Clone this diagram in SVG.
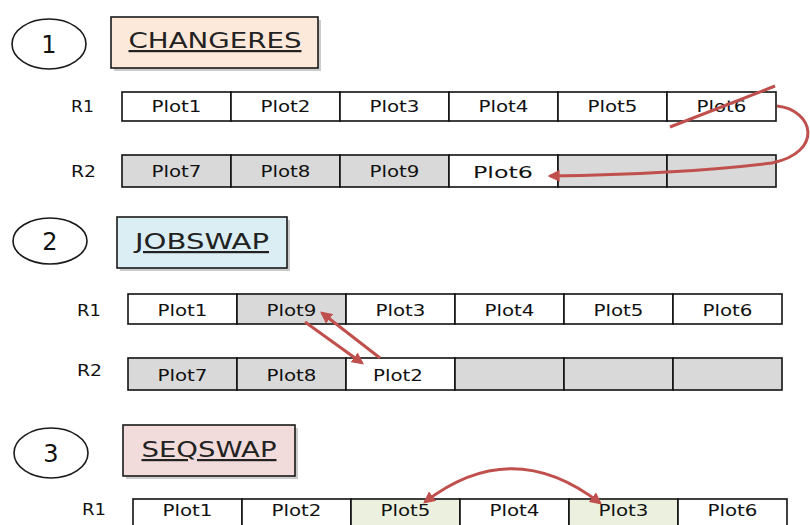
<svg xmlns="http://www.w3.org/2000/svg" width="810" height="525" viewBox="0 0 810 525">
  <defs>
    <style>
      .bg { fill: #ffffff; }
      .num { fill: #ffffff; stroke: #1a1a1a; stroke-width: 1.6; }
      .numtxt { font-family: "DejaVu Sans", "Noto Sans", sans-serif; font-size: 24px; fill: #111; text-anchor: middle; }
      .hdr { stroke: #1a1a1a; stroke-width: 1.6; }
      .shadow { fill: #9a9a9a; opacity: 0.5; }
      .hdrtxt { font-family: "DejaVu Sans", "Noto Sans", sans-serif; font-size: 22px; fill: #222; text-anchor: middle; text-decoration: underline; }
      .rowlbl { font-family: "DejaVu Sans", "Noto Sans", sans-serif; font-size: 16px; fill: #111; }
      .cell { stroke: #111; stroke-width: 1.6; }
      .w { fill: #ffffff; }
      .g { fill: #d9d9d9; }
      .gr { fill: #ebf1de; }
      .ctxt { font-family: "DejaVu Sans", "Noto Sans", sans-serif; font-size: 15px; fill: #111; text-anchor: middle; }
      .link { fill: none; stroke: #c0504d; stroke-width: 3; }
    </style>
    <marker id="ah" viewBox="0 0 10 10" refX="8" refY="5" markerWidth="4" markerHeight="4" orient="auto-start-reverse" markerUnits="strokeWidth">
      <path d="M0,0 L10,5 L0,10 z" fill="#c0504d"/>
    </marker>
  </defs>

  <rect class="bg" x="0" y="0" width="810" height="525"/>

  <!-- ===== Section 1: CHANGERES ===== -->
  <g id="step1">
    <ellipse class="num" cx="49" cy="44" rx="37" ry="25"/>
    <text class="numtxt" x="49" y="53">1</text>
  </g>
  <g id="changeres">
    <rect class="shadow" x="114" y="20" width="207" height="51"/>
    <rect class="hdr" x="111" y="17" width="207" height="51" fill="#fde9d9"/>
    <text class="hdrtxt" x="215" y="48" textLength="173" lengthAdjust="spacingAndGlyphs">CHANGERES</text>
  </g>

  <text class="rowlbl" x="71" y="112" textLength="23" lengthAdjust="spacingAndGlyphs">R1</text>
  <g id="s1-r1-c1"><rect class="cell w" x="122" y="92" width="109" height="29"/><text class="ctxt" x="176.5" y="112" textLength="50" lengthAdjust="spacingAndGlyphs">Plot1</text></g>
  <g id="s1-r1-c2"><rect class="cell w" x="231" y="92" width="109" height="29"/><text class="ctxt" x="285.5" y="112" textLength="50" lengthAdjust="spacingAndGlyphs">Plot2</text></g>
  <g id="s1-r1-c3"><rect class="cell w" x="340" y="92" width="109" height="29"/><text class="ctxt" x="394.5" y="112" textLength="50" lengthAdjust="spacingAndGlyphs">Plot3</text></g>
  <g id="s1-r1-c4"><rect class="cell w" x="449" y="92" width="109" height="29"/><text class="ctxt" x="503.5" y="112" textLength="50" lengthAdjust="spacingAndGlyphs">Plot4</text></g>
  <g id="s1-r1-c5"><rect class="cell w" x="558" y="92" width="109" height="29"/><text class="ctxt" x="612.5" y="112" textLength="50" lengthAdjust="spacingAndGlyphs">Plot5</text></g>
  <g id="s1-r1-c6"><rect class="cell w" x="667" y="92" width="109" height="29"/><text class="ctxt" x="721.5" y="112" textLength="50" lengthAdjust="spacingAndGlyphs">Plot6</text></g>

  <text class="rowlbl" x="71" y="177" textLength="25" lengthAdjust="spacingAndGlyphs">R2</text>
  <g id="s1-r2-c1"><rect class="cell g" x="122" y="155" width="109" height="32"/><text class="ctxt" x="176.5" y="177" textLength="50" lengthAdjust="spacingAndGlyphs">Plot7</text></g>
  <g id="s1-r2-c2"><rect class="cell g" x="231" y="155" width="109" height="32"/><text class="ctxt" x="285.5" y="177" textLength="50" lengthAdjust="spacingAndGlyphs">Plot8</text></g>
  <g id="s1-r2-c3"><rect class="cell g" x="340" y="155" width="109" height="32"/><text class="ctxt" x="394.5" y="177" textLength="50" lengthAdjust="spacingAndGlyphs">Plot9</text></g>
  <g id="s1-r2-c4"><rect class="cell w" x="449" y="155" width="109" height="32"/><text class="ctxt" x="503" y="178" font-size="17" textLength="60" lengthAdjust="spacingAndGlyphs">Plot6</text></g>
  <g id="s1-r2-c5"><rect class="cell g" x="558" y="155" width="109" height="32"/></g>
  <g id="s1-r2-c6"><rect class="cell g" x="667" y="155" width="109" height="32"/></g>

  <!-- ===== Section 2: JOBSWAP ===== -->
  <g id="step2">
    <ellipse class="num" cx="50" cy="241" rx="37" ry="23"/>
    <text class="numtxt" x="50" y="250">2</text>
  </g>
  <g id="jobswap">
    <rect class="shadow" x="120" y="220" width="170" height="51"/>
    <rect class="hdr" x="117" y="217" width="170" height="51" fill="#dbeef4"/>
    <text class="hdrtxt" x="202" y="249" textLength="134" lengthAdjust="spacingAndGlyphs">JOBSWAP</text>
  </g>

  <text class="rowlbl" x="77" y="316" textLength="24" lengthAdjust="spacingAndGlyphs">R1</text>
  <g id="s2-r1-c1"><rect class="cell w" x="128" y="294" width="109" height="30"/><text class="ctxt" x="182.5" y="316" textLength="50" lengthAdjust="spacingAndGlyphs">Plot1</text></g>
  <g id="s2-r1-c2"><rect class="cell g" x="237" y="294" width="109" height="30"/><text class="ctxt" x="291.5" y="316" textLength="50" lengthAdjust="spacingAndGlyphs">Plot9</text></g>
  <g id="s2-r1-c3"><rect class="cell w" x="346" y="294" width="109" height="30"/><text class="ctxt" x="400.5" y="316" textLength="50" lengthAdjust="spacingAndGlyphs">Plot3</text></g>
  <g id="s2-r1-c4"><rect class="cell w" x="455" y="294" width="109" height="30"/><text class="ctxt" x="509.5" y="316" textLength="50" lengthAdjust="spacingAndGlyphs">Plot4</text></g>
  <g id="s2-r1-c5"><rect class="cell w" x="564" y="294" width="109" height="30"/><text class="ctxt" x="618.5" y="316" textLength="50" lengthAdjust="spacingAndGlyphs">Plot5</text></g>
  <g id="s2-r1-c6"><rect class="cell w" x="673" y="294" width="109" height="30"/><text class="ctxt" x="727.5" y="316" textLength="50" lengthAdjust="spacingAndGlyphs">Plot6</text></g>

  <text class="rowlbl" x="77" y="376" textLength="25" lengthAdjust="spacingAndGlyphs">R2</text>
  <g id="s2-r2-c1"><rect class="cell g" x="128" y="358" width="109" height="32"/><text class="ctxt" x="182.5" y="381" textLength="50" lengthAdjust="spacingAndGlyphs">Plot7</text></g>
  <g id="s2-r2-c2"><rect class="cell g" x="237" y="358" width="109" height="32"/><text class="ctxt" x="291.5" y="381" textLength="50" lengthAdjust="spacingAndGlyphs">Plot8</text></g>
  <g id="s2-r2-c3"><rect class="cell w" x="346" y="358" width="109" height="32"/><text class="ctxt" x="398" y="381" textLength="50" lengthAdjust="spacingAndGlyphs">Plot2</text></g>
  <g id="s2-r2-c4"><rect class="cell g" x="455" y="358" width="109" height="32"/></g>
  <g id="s2-r2-c5"><rect class="cell g" x="564" y="358" width="109" height="32"/></g>
  <g id="s2-r2-c6"><rect class="cell g" x="673" y="358" width="109" height="32"/></g>

  <!-- ===== Section 3: SEQSWAP ===== -->
  <g id="step3">
    <ellipse class="num" cx="51" cy="453" rx="37" ry="25"/>
    <text class="numtxt" x="51" y="462">3</text>
  </g>
  <g id="seqswap">
    <rect class="shadow" x="126" y="428" width="172" height="51"/>
    <rect class="hdr" x="123" y="425" width="172" height="51" fill="#f2dcdb"/>
    <text class="hdrtxt" x="209" y="457" textLength="135" lengthAdjust="spacingAndGlyphs">SEQSWAP</text>
  </g>

  <text class="rowlbl" x="82" y="515" textLength="24" lengthAdjust="spacingAndGlyphs">R1</text>
  <g id="s3-r1-c1"><rect class="cell w" x="133" y="499" width="109" height="32"/><text class="ctxt" x="187.5" y="516" textLength="50" lengthAdjust="spacingAndGlyphs">Plot1</text></g>
  <g id="s3-r1-c2"><rect class="cell w" x="242" y="499" width="109" height="32"/><text class="ctxt" x="296.5" y="516" textLength="50" lengthAdjust="spacingAndGlyphs">Plot2</text></g>
  <g id="s3-r1-c3"><rect class="cell gr" x="351" y="499" width="109" height="32"/><text class="ctxt" x="405.5" y="516" textLength="50" lengthAdjust="spacingAndGlyphs">Plot5</text></g>
  <g id="s3-r1-c4"><rect class="cell w" x="460" y="499" width="109" height="32"/><text class="ctxt" x="514.5" y="516" textLength="50" lengthAdjust="spacingAndGlyphs">Plot4</text></g>
  <g id="s3-r1-c5"><rect class="cell gr" x="569" y="499" width="109" height="32"/><text class="ctxt" x="623.5" y="516" textLength="50" lengthAdjust="spacingAndGlyphs">Plot3</text></g>
  <g id="s3-r1-c6"><rect class="cell w" x="678" y="499" width="109" height="32"/><text class="ctxt" x="732.5" y="516" textLength="50" lengthAdjust="spacingAndGlyphs">Plot6</text></g>

  <!-- ===== Connectors ===== -->
  <g id="connectors">
    <!-- strike-through of the moved job -->
    <line class="link" x1="670" y1="127" x2="775" y2="86"/>
    <!-- move Plot6 from R1 to R2 -->
    <path class="link" marker-end="url(#ah)" d="M777,106 C814,110 824,152 772,163 C700,172 620,175 550,176"/>
    <!-- swap Plot9 / Plot2 between resources -->
    <line class="link" marker-end="url(#ah)" x1="305" y1="322" x2="362" y2="363"/>
    <line class="link" marker-end="url(#ah)" x1="380" y1="358" x2="322" y2="313"/>
    <!-- swap positions in sequence -->
    <path class="link" marker-start="url(#ah)" marker-end="url(#ah)" d="M425,502 Q512,435 600,503"/>
  </g>
</svg>
